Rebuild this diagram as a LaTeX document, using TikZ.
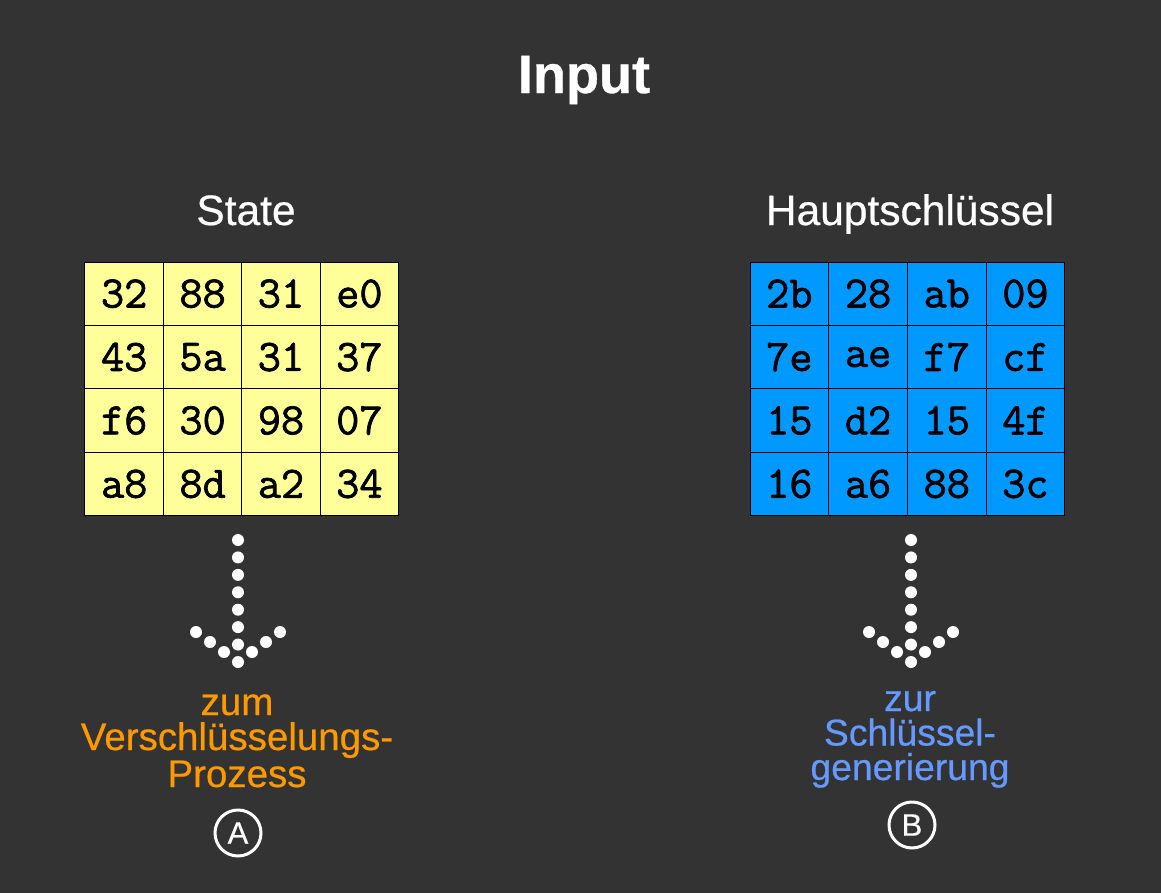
\documentclass[tikz,border=0pt]{standalone}
\usepackage{fontspec}
\setmainfont{Liberation Sans}[FakeBold=0.6]
\newfontfamily\labfont{Liberation Sans}[FakeBold=0.5]
\newfontfamily\cellfont{Latin Modern Mono}[FakeBold=1.6]
\usetikzlibrary{calc}
\definecolor{bgc}{HTML}{333333}
\definecolor{yel}{HTML}{FFFF99}
\definecolor{blu}{HTML}{0099FF}
\definecolor{orn}{HTML}{FF9900}
\definecolor{lbl}{HTML}{6699FF}
\tikzset{
  cell/.style={draw=black, line width=1bp, minimum width=78.6bp, minimum height=63.3bp, inner sep=0pt,
    font=\cellfont\fontsize{45bp}{48bp}\selectfont, text=black},
  head/.style={text=white, anchor=base, font=\labfont\fontsize{42.5bp}{46bp}\selectfont},
  olab/.style={text=orn, anchor=base, inner sep=0pt, font=\labfont\fontsize{38.5bp}{40bp}\selectfont},
  blab/.style={text=lbl, anchor=base, inner sep=0pt, font=\labfont\fontsize{37.3bp}{40bp}\selectfont},
  circ/.style={circle, draw=white, line width=3bp, minimum size=46bp, inner sep=0pt, text=white,
    font=\labfont\fontsize{31bp}{32bp}\selectfont},
}
\begin{document}
\begin{tikzpicture}[x=1bp, y=-1bp]
\fill[bgc] (0,0) rectangle (1161,893);
\useasboundingbox (0,0) rectangle (1161,893);
\node[anchor=base, text=white, font=\bfseries\fontsize{54bp}{60bp}\selectfont] (title) at (584,93) {Input};
\node[head] (st) at (246,225) {State};
\node[head] (hk) at (910,225) {Hauptschlüssel};
% state grid
\foreach \r/\row in {1/{32,88,31,e0},2/{43,5a,31,37},3/{f6,30,98,07},4/{a8,8d,a2,34}} {
  \foreach \v [count=\c] in \row {
    \node[cell, fill=yel] (s\r\c) at ({85+78.4*(\c-0.5)}, {262+63.4*(\r-0.5)}) {\v};
  }
}
% key grid
\foreach \r/\row in {1/{2b,28,ab,09},2/{7e,ae,f7,cf},3/{15,d2,15,4f},4/{16,a6,88,3c}} {
  \foreach \v [count=\c] in \row {
    \node[cell, fill=blu] (k\r\c) at ({750+78.7*(\c-0.5)}, {262+63.4*(\r-0.5)}) {\v};
  }
}
% dotted arrows
\foreach \n/\x in {a/238, b/911} {
  \coordinate (\n top) at (\x,540);
  \coordinate (\n tip) at (\x,662);
  \coordinate (\n l) at (\x-42,632);
  \coordinate (\n r) at (\x+42,632);
  \foreach \i in {0,...,7} \fill[white] ($(\n top)!\i/7!(\n tip)$) circle (6);
  \foreach \i in {0,...,2} {
    \fill[white] ($(\n l)!\i/3!(\n tip)$) circle (6);
    \fill[white] ($(\n r)!\i/3!(\n tip)$) circle (6);
  }
}
\node[olab] (o1) at (237,715) {zum};
\node[olab] (o2) at (237,750) {Verschlüsselungs-};
\node[olab] (o3) at (237,787) {Prozess};
\node[blab] (b1) at (910,711) {zur};
\node[blab] (b2) at (910,745.5) {Schlüssel-};
\node[blab] (b3) at (910,780) {generierung};
\node[circ] (ca) at (238,833) {A};
\node[circ] (cb) at (912,825) {B};
\end{tikzpicture}
\end{document}
